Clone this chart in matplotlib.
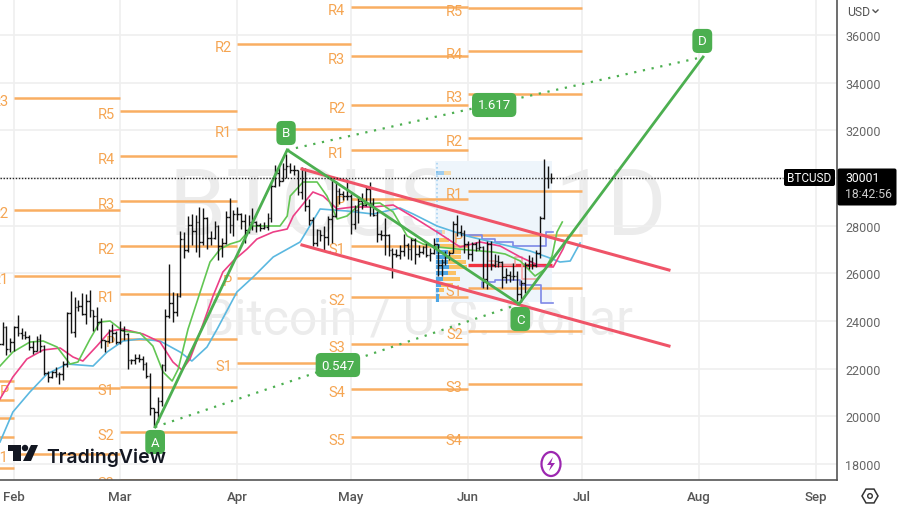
import matplotlib
matplotlib.use('Agg')
import matplotlib.pyplot as plt
from matplotlib.patches import FancyBboxPatch, Ellipse, Polygon, Circle, Rectangle, RegularPolygon

plt.rcParams['font.family'] = ['Roboto', 'DejaVu Sans']

# days counted from Feb 1
first_day = -4
opens = [23080,23030,23750,22830,
 23130,23730,23490,23430,23330,22930,22760,23250,22960,21800,21630,21860,21780,21790,22200,24330,23520,24570,24630,24280,24840,24450,24190,23950,23190,23160,23560,23490,
 23130,23640,23470,22360,22350,22430,22410,22200,21700,20360,20190,20630,22160,24200,24770,24370,25050,27420,26970,28040,27770,28170,27310,28330,27490,27490,27990,27130,27270,28350,28030,
 28480,28470,28200,27800,28170,28170,28040,27920,27950,28330,29650,30230,29880,30390,30490,30320,30320,29430,30380,28820,28250,27270,27820,27590,27520,28300,28420,29470,29340,29240,
 29230,28070,28670,29030,28850,29530,28900,28450,27660,27620,27600,26970,26800,26780,26930,27170,27030,27400,26820,26890,27120,26750,26850,27220,26330,26470,26720,26870,28080,27740,27700,
 27220,26820,27250,27070,27120,25760,27230,26340,26500,26480,25850,25940,25900,25900,25130,25580,26340,26510,26340,26850,28310,30020,29990]
highs = [23180,23960,23800,23300,
 23800,24250,23700,23580,23430,23160,23350,23450,23010,21910,21900,22080,21880,22320,24370,25250,24990,24880,25190,25130,25280,24470,24590,24130,23210,23670,23880,23600,
 24000,23780,23480,22420,22610,22600,22530,22270,21810,20370,20820,22200,24500,26390,25220,25170,27760,27720,28400,28500,28450,28800,28750,28380,27770,28190,28030,27500,28630,29170,28650,
 28800,28530,28480,28450,28750,28180,28100,28170,28530,29770,30550,30480,30610,31000,30610,30550,30320,30480,30410,29100,28370,27880,27820,28000,28390,30020,29890,29570,29450,29960,
 29330,28880,29260,29370,29680,29840,29170,28630,27820,28330,27630,27050,27020,27180,27650,27270,27480,27500,27170,27150,27270,27050,27500,27220,26590,26930,26940,28190,28440,28030,27830,
 27350,27300,27320,27450,27140,27350,27340,26800,26770,26530,26210,26090,26430,26080,25740,26480,26770,26690,26980,28400,30800,30500,30200]
lows = [22880,23010,22560,22720,
 22760,23370,23240,23260,22770,22630,22750,22680,21730,21460,21620,21630,21370,21540,22050,23510,23340,24440,24240,23870,24150,23580,23620,22860,22720,23070,23110,23020,
 23020,23200,22000,22210,22200,22270,21930,21600,20050,19570,19770,20450,21900,24120,23950,24200,25000,26650,26880,27180,26900,26670,27190,27030,27200,27440,26560,26670,27240,27700,27550,
 28250,27880,27280,27680,27810,27730,27780,27880,27800,28170,29620,29670,29880,30000,30230,30130,29270,29100,28610,28020,27140,27130,27350,26950,27200,27260,28370,28900,29080,29080,
 27670,27880,28130,28680,28810,28400,28410,27300,27400,26760,26740,25800,26690,26600,26740,26590,26570,26400,26680,26830,26690,26530,26830,25870,25870,26340,26560,26840,27550,27560,26860,
 26600,26510,26920,26970,25400,25350,26130,26250,26280,25400,25600,25650,25710,24820,24800,25170,26190,26200,26260,26640,28280,29600,29800]
closes = [23030,23750,22830,23130,
 23730,23490,23430,23330,22930,22760,23250,22960,21800,21630,21860,21780,21790,22200,24330,23520,24570,24630,24280,24840,24450,24190,23950,23190,23160,23560,23490,23130,
 23640,23470,22360,22350,22430,22410,22200,21700,20360,20190,20630,22160,24200,24770,24370,25050,27420,26970,28040,27770,28170,27310,28330,27490,27490,27990,27130,27270,28350,28030,28480,
 28470,28200,27800,28170,28170,28040,27920,27950,28330,29650,30230,29880,30390,30490,30320,30320,29430,30380,28820,28250,27270,27820,27590,27520,28300,28420,29470,29340,29240,29230,
 28070,28670,29030,28850,29530,28900,28450,27660,27620,27600,26970,26800,26780,26930,27170,27030,27400,26820,26890,27120,26750,26850,27220,26330,26470,26720,26870,28080,27740,27700,27220,
 26820,27250,27070,27120,25760,27230,26340,26500,26480,25850,25940,25900,25900,25130,25580,26340,26510,26340,26850,28310,30020,29990,30001]

green_days = [-3.7,-0.3,4.2,7.7,11.4,14.8,16.9,20.1,22.7,25.4,28.8,33.3,36.7,39.4,41.8,43.4,46,49.2,51.8,54.5,57.1,59.7,63.2,70.3,72.2,73,76.4,80.1,82.7,85.4,88,91.5,96.7,100.2,103.9,108.1,111.8,117.1,126.6,129.8,133.8,137.7,140.4,142.2,143.5,144.9]
green_vals = [22111,22698,23118,23160,22908,22195,22279,23244,23957,23999,23580,23496,22950,21860,21482,21985,23664,25216,26475,27021,27230,27356,27986,27986,28405,29244,29832,29832,29244,28279,28405,28908,28950,28573,27566,27230,27105,27021,26895,26810,26517,25888,26182,26727,27734,28153]
pink_days = [-3.7,-0.3,3.4,7.7,12.2,15.6,18.2,21.9,25.4,28.8,34.1,38.6,42,44.4,46.5,49.2,52.6,55.2,57.9,61.6,64.2,68.5,72.2,73.8,79,81.7,85.4,89.6,94.9,100.2,105.5,111.8,117.9,123.2,128.5,133.8,139,142.5,145.1,146.4]
pink_vals = [20727,21650,22405,22783,22867,22489,22321,22950,23580,23664,23454,23118,22279,21943,22405,23538,25048,26055,26517,27021,27440,27734,27860,28405,29412,29244,28699,28783,28783,28867,28363,27734,27105,27314,27146,26685,26307,26265,27021,27524]
blue_days = [-3.7,-0.3,4.2,8.7,14,20.9,24.6,28.8,33.3,38.6,43.9,47,51,53.7,58.9,63.2,68.5,75.6,80.9,88,94.9,102,105.5,111.8,119.7,128.5,136.4,140.9,144.3,147,149.6]
blue_vals = [18922,20181,21020,21775,22195,22111,22698,23160,23244,23160,22698,22321,22908,23664,25216,25845,26685,27314,28699,28615,28489,28741,28489,27985,27566,27230,26936,26685,26475,26517,27272]

# pivot levels per month
month_starts = [-31,0,28,59,89,120,150]
jan_levels = [21482,20685,19930,19132,17831]
feb_labels = ['R3','R2','R1','P','S1']
feb_levels = [33357,28657,25888,21188,18419]
mar_labels = ['R5','R4','R3','R2','R1','P','S1','S2','S3']
mar_levels = [32811,30923,29035,27146,25132,23244,21230,19342,17328]
apr_labels = ['R2','R1','P','S1']
apr_levels = [35622,32056,25804,22237]
may_labels = ['R4','R3','R2','R1','P','S1','S2','S3','S4','S5']
may_levels = [37175,35119,33063,31175,29119,27146,25007,23034,21146,19132]
jun_labels = ['R5','R4','R3','R2','R1','P','S1','S2','S3','S4']
jun_levels = [37133,35329,33524,31678,29454,27608,25384,23580,21356,19132]

abcd_days = [37.3,72.2,133.5,182.1]
abcd_vals = [19552,31175,24713,35077]
channel_days = [76.1,173.1]
channel_upper = [30378,26139]
channel_lower = [27189,22950]

profile_prices = [30210,27734,27400,27147,26895,26685,26475,26265,26013,25762,25510,25300,25048,24880]
profile_blue = [8,6,3,4,12,12,12,13,12,7,5,3,3,3]
profile_orange = [7,3,10,13,13,13,18,18,8,17,12,5,1,0]

step_up_days = [118.7,123.7,123.7,127,127,132,132,140.5,140.5,142.5]
step_up_vals = [27608,27608,27440,27440,27314,27314,27146,27146,27734,27734]
step_low_days = [123.7,123.7,127,127,133.8,133.8,139.4,139.4,142.5]
step_low_vals = [25426,25636,25636,25720,25720,25510,25510,24755,24755]
step_pink_days = [125.3,125.3,127,127,132.4,132.4,134.3,134.3,138.2]
step_pink_vals = [27188,26517,26517,26349,26349,26685,26685,25762,25762]

yticks = [18000,20000,22000,24000,26000,28000,30000,32000,34000,36000]
xticks = [0,28,59,89,120,150,181,212]
xticklabels = ['Feb','Mar','Apr','May','Jun','Jul','Aug','Sep']

fig = plt.figure(figsize=(9,5.1),dpi=100)
ax = fig.add_axes([0,29/510,837/900,481/510])
over = fig.add_axes([0,0,1,1],zorder=10)
over.set_xlim(0,900)
over.set_ylim(510,0)
over.axis('off')
over.patch.set_alpha(0)

ax.set_xlim(-3.7,217.5)
ax.set_ylim(17329,37510)

# watermark
ax.text(418,236,'BTCUSD, 1D',transform=over.transData,ha='center',va='baseline',fontsize=66,color='#ececec',zorder=0)
ax.text(418,335,'Bitcoin / U.S. Dollar',transform=over.transData,ha='center',va='baseline',fontsize=36,color='#ececec',zorder=0)

ax.set_yticks(yticks)
ax.set_xticks(xticks)
ax.set_xticklabels(xticklabels,fontsize=9.5,fontweight='medium',color='#555555')
ax.yaxis.tick_right()
ax.tick_params(axis='y',length=0,pad=6,labelsize=9,labelcolor='#666666')
ax.tick_params(axis='x',length=0,pad=7)
ax.grid(color='#efefef',linewidth=1.2,zorder=0.5)
ax.set_axisbelow(True)
for side in ['left','top']:
    ax.spines[side].set_visible(False)
for side in ['right','bottom']:
    ax.spines[side].set_color('#555555')
    ax.spines[side].set_linewidth(1.2)

# pivots
orange = '#f9ae62'
columns = [([None]*5,jan_levels),(feb_labels,feb_levels),(mar_labels,mar_levels),(apr_labels,apr_levels),(may_labels,may_levels),(jun_labels,jun_levels)]
for i,(labels,levels) in enumerate(columns):
    for lab,lev in zip(labels,levels):
        ax.plot([month_starts[i],month_starts[i+1]],[lev,lev],color=orange,linewidth=1.8,zorder=1,solid_capstyle='butt')
        if lab:
            ax.annotate(lab,(month_starts[i],lev),xytext=(-3.8,-2.5),textcoords='offset points',ha='right',va='center',fontsize=10.5,color='#f5a552',zorder=1.2,annotation_clip=False,clip_on=True)

# volume profile box
ax.add_patch(Rectangle((111.3,24797),30.9,5916,facecolor='#eef5fb',edgecolor='none',zorder=0.8))
ax.plot([111.7,111.7],[24800,30700],color='#a9d3f2',linewidth=1.2,linestyle=(0,(1,1.5)),zorder=1)
px_day = 1/3.783
for p,b,o in zip(profile_prices,profile_blue,profile_orange):
    fade = 0.5 if p > 27500 else 1
    ax.barh(p,b*px_day,left=111.4,height=190,color='#4fa6e4',alpha=fade,zorder=1.4)
    ax.barh(p,o*px_day,left=111.4+b*px_day,height=190,color='#fbc264',alpha=fade,zorder=1.4)
ax.plot([120,142.2],[26349,26349],color='#f0323f',linewidth=2.4,zorder=2,solid_capstyle='butt')
ax.plot(step_up_days,step_up_vals,color='#7d88e6',linewidth=1.2,zorder=2)
ax.plot(step_low_days,step_low_vals,color='#7d88e6',linewidth=1.2,zorder=2)
ax.plot(step_pink_days,step_pink_vals,color='#f4a8a8',linewidth=1.2,zorder=2)

# moving averages
ax.plot(blue_days,blue_vals,color='#5bb8e0',linewidth=1.2,zorder=3)
ax.plot(pink_days,pink_vals,color='#ec3f86',linewidth=1.2,zorder=3)
ax.plot(green_days,green_vals,color='#62c653',linewidth=1.2,zorder=3)

# daily bars
days = [first_day+i for i in range(len(closes))]
ax.vlines(days,lows,highs,color='#111111',linewidth=1.0,zorder=4)
ax.hlines(opens,[d-0.45 for d in days],days,color='#111111',linewidth=1.0,zorder=4)
ax.hlines(closes,days,[d+0.45 for d in days],color='#111111',linewidth=1.0,zorder=4)

# channel and abcd
red = '#ef5468'
ax.plot(channel_days,channel_upper,color=red,linewidth=2.2,zorder=5)
ax.plot(channel_days,channel_lower,color=red,linewidth=2.2,zorder=5)
fib = '#4caf50'
ax.plot(abcd_days,abcd_vals,color=fib,linewidth=2,zorder=6,solid_joinstyle='miter')
ax.plot([abcd_days[0],abcd_days[2]],[abcd_vals[0],abcd_vals[2]],color=fib,linewidth=1.6,linestyle=(0,(1,3)),zorder=6)
ax.plot([abcd_days[1],abcd_days[3]],[abcd_vals[1],abcd_vals[3]],color=fib,linewidth=1.6,linestyle=(0,(1,3)),zorder=6)

box = dict(boxstyle='round,pad=0.42,rounding_size=0.4',facecolor=fib,edgecolor='none')
for txt,x,y in [('A',37.3,18923),('B',71.9,31888),('C',133.8,24083),('D',181.9,35750),('1.617',126.9,33063),('0.547',85.6,22153)]:
    ax.text(x,y,txt,color='white',fontsize=9.5,ha='center',va='center',bbox=box,zorder=7)

# last price
ax.plot([-3.7,203.3],[30001,30001],color='#222222',linewidth=1,linestyle=(0,(1,1.2)),zorder=6)

# right side tags
over.add_patch(FancyBboxPatch((785,171),49,15,boxstyle='round,pad=1,rounding_size=2',facecolor='black',edgecolor='none'))
over.text(809.5,179,'BTCUSD',color='white',fontsize=8.5,ha='center',va='center')
over.add_patch(FancyBboxPatch((839,171),56,34,boxstyle='round,pad=1.5,rounding_size=2',facecolor='black',edgecolor='none'))
over.text(845,179,'30001',color='white',fontsize=8.8,ha='left',va='center')
over.text(845,195,'18:42:56',color='#cccccc',fontsize=8.8,ha='left',va='center')
over.text(847,12,'USD',color='#555555',fontsize=8.8,ha='left',va='center')
over.plot([873,875.5,878],[11,13.5,11],color='#555555',linewidth=1)

# settings icon
over.add_patch(RegularPolygon((870,497),6,radius=8,orientation=0.5236,facecolor='none',edgecolor='#333333',linewidth=1.1))
over.add_patch(Circle((870,497),2.3,facecolor='none',edgecolor='#333333',linewidth=1))

# lightning icon
over.add_patch(Ellipse((551,465),19,24,facecolor='white',edgecolor='#9c27b0',linewidth=1.6))
over.add_patch(Polygon([(553,458),(547,466),(551,466),(549,472),(555,464),(551,464)],facecolor='#9c27b0',edgecolor='none'))

# logo
navy = '#131722'
over.add_patch(Rectangle((8,446),13,6,facecolor=navy,edgecolor='none'))
over.add_patch(Rectangle((13,452),8,10,facecolor=navy,edgecolor='none'))
over.add_patch(Circle((25,449),3.2,facecolor=navy,edgecolor='none'))
over.add_patch(Polygon([(31,446),(38,446),(31,462),(23,462)],facecolor=navy,edgecolor='none'))
over.text(46,463,'TradingView',color=navy,fontsize=14,ha='left',va='baseline',fontweight='semibold',family='Inter')

plt.savefig('out.png',dpi=100)
